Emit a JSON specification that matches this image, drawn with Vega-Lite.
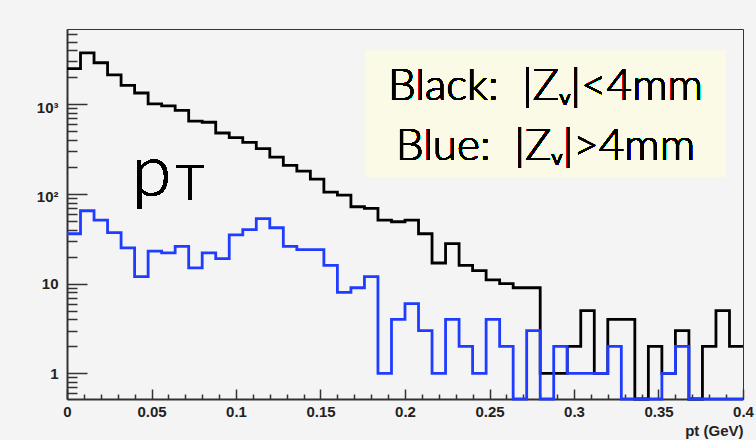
{
  "$schema": "https://vega.github.io/schema/vega-lite/v6.json",
  "autosize": {"type": "none"},
  "width": 676,
  "height": 370,
  "padding": {"left": 67, "top": 29, "right": 13, "bottom": 41},
  "background": "#f4f4f4",
  "config": {
    "view": {"stroke": "#333333", "strokeWidth": 1, "fill": "#f4f4f4"},
    "axis": {"grid": false, "tickColor": "#333333", "tickWidth": 1.5, "domainColor": "#333333", "domainWidth": 2, "labelFont": "Liberation Sans", "labelFontSize": 15, "labelFontWeight": "bold", "labelColor": "#222222", "labelOverlap": false, "labelFlush": false}
  },
  "data": {
    "values": [
      {"pt": 0, "black": 2500, "blue": 36},
      {"pt": 0.008, "black": 3730, "blue": 65},
      {"pt": 0.016, "black": 2900, "blue": 51},
      {"pt": 0.024, "black": 2130, "blue": 37},
      {"pt": 0.032, "black": 1620, "blue": 25},
      {"pt": 0.04, "black": 1335, "blue": 12},
      {"pt": 0.048, "black": 1010, "blue": 23},
      {"pt": 0.056, "black": 960, "blue": 22},
      {"pt": 0.064, "black": 855, "blue": 26},
      {"pt": 0.072, "black": 650, "blue": 15},
      {"pt": 0.08, "black": 630, "blue": 22},
      {"pt": 0.088, "black": 478, "blue": 19},
      {"pt": 0.096, "black": 425, "blue": 35},
      {"pt": 0.104, "black": 375, "blue": 40},
      {"pt": 0.112, "black": 320, "blue": 53},
      {"pt": 0.12, "black": 258, "blue": 42},
      {"pt": 0.128, "black": 208, "blue": 26},
      {"pt": 0.136, "black": 180, "blue": 24},
      {"pt": 0.144, "black": 146, "blue": 24},
      {"pt": 0.152, "black": 105, "blue": 16},
      {"pt": 0.16, "black": 97, "blue": 8},
      {"pt": 0.168, "black": 72, "blue": 9},
      {"pt": 0.176, "black": 69, "blue": 12},
      {"pt": 0.184, "black": 51, "blue": 1},
      {"pt": 0.192, "black": 49, "blue": 4},
      {"pt": 0.2, "black": 51, "blue": 6},
      {"pt": 0.208, "black": 36, "blue": 3},
      {"pt": 0.216, "black": 17, "blue": 1},
      {"pt": 0.224, "black": 28, "blue": 4},
      {"pt": 0.232, "black": 16, "blue": 2},
      {"pt": 0.24, "black": 14, "blue": 1},
      {"pt": 0.248, "black": 11, "blue": 4},
      {"pt": 0.256, "black": 10, "blue": 2},
      {"pt": 0.264, "black": 9, "blue": 0},
      {"pt": 0.272, "black": 9, "blue": 3},
      {"pt": 0.28, "black": 1, "blue": 0},
      {"pt": 0.288, "black": 1, "blue": 2},
      {"pt": 0.296, "black": 2, "blue": 1},
      {"pt": 0.304, "black": 5, "blue": 1},
      {"pt": 0.312, "black": 1, "blue": 1},
      {"pt": 0.32, "black": 4, "blue": 2},
      {"pt": 0.328, "black": 4, "blue": 0},
      {"pt": 0.336, "black": 0, "blue": 0},
      {"pt": 0.344, "black": 2, "blue": 0},
      {"pt": 0.352, "black": 1, "blue": 1},
      {"pt": 0.36, "black": 3, "blue": 2},
      {"pt": 0.368, "black": 0, "blue": 0},
      {"pt": 0.376, "black": 2, "blue": 0},
      {"pt": 0.384, "black": 5, "blue": 0},
      {"pt": 0.392, "black": 2, "blue": 0},
      {"pt": 0.4, "black": 2, "blue": 0}
    ]
  },
  "resolve": {"axis": {"x": "independent", "y": "independent"}},
  "layer": [
    {
      "mark": {"type": "rect", "color": "#fafae6"},
      "encoding": {
        "x": {"datum": 0.1763, "type": "quantitative", "axis": null},
        "x2": {"datum": 0.3899},
        "y": {"datum": 3958, "type": "quantitative", "axis": null},
        "y2": {"datum": 156}
      }
    },
    {
      "mark": {"type": "line", "interpolate": "step-after", "color": "#000000", "strokeWidth": 2.8, "invalid": "show"},
      "encoding": {
        "x": {
          "field": "pt", "type": "quantitative",
          "scale": {"domain": [0, 0.4], "nice": false, "zero": false},
          "axis": {
            "orient": "bottom",
            "values": [0, 0.05, 0.1, 0.15, 0.2, 0.25, 0.3, 0.35, 0.4],
            "format": "~g",
            "tickSize": -10,
            "labelPadding": 15,
            "title": "pt (GeV)",
            "titleFont": "Liberation Sans",
            "titleFontSize": 15,
            "titleFontWeight": "bold",
            "titleColor": "#222222",
            "titleX": 676,
            "titleY": 36,
            "titleAlign": "right",
            "titleBaseline": "alphabetic"
          }
        },
        "y": {
          "field": "black", "type": "quantitative",
          "scale": {"type": "log", "domain": [0.518, 6900], "nice": false, "clamp": true},
          "axis": {
            "orient": "left",
            "values": [1, 10, 100, 1000],
            "tickSize": -20,
            "labelPadding": 29,
            "labelOffset": {"condition": {"test": "datum.value >= 100", "value": 3}, "value": 0},
            "labelExpr": "datum.value == 1 ? '1' : datum.value == 10 ? '10' : datum.value == 100 ? '10²' : '10³'",
            "title": null
          }
        }
      }
    },
    {
      "mark": {"type": "line", "interpolate": "step-after", "color": "#1f3cff", "strokeWidth": 2.8, "invalid": "show"},
      "encoding": {
        "x": {
          "field": "pt", "type": "quantitative",
          "axis": {
            "orient": "bottom",
            "values": [0.01, 0.02, 0.03, 0.04, 0.06, 0.07, 0.08, 0.09, 0.11, 0.12, 0.13, 0.14, 0.16, 0.17, 0.18, 0.19, 0.21, 0.22, 0.23, 0.24, 0.26, 0.27, 0.28, 0.29, 0.31, 0.32, 0.33, 0.34, 0.36, 0.37, 0.38, 0.39],
            "tickSize": -5,
            "labels": false,
            "domain": false,
            "title": null
          }
        },
        "y": {
          "field": "blue", "type": "quantitative",
          "axis": {
            "orient": "left",
            "values": [0.6, 0.7, 0.8, 0.9, 2, 3, 4, 5, 6, 7, 8, 9, 20, 30, 40, 50, 60, 70, 80, 90, 200, 300, 400, 500, 600, 700, 800, 900, 2000, 3000, 4000, 5000, 6000],
            "tickSize": -10,
            "labels": false,
            "domain": false,
            "title": null
          }
        }
      }
    },
    {
      "mark": {"type": "text", "text": "p", "font": "Lato", "fontSize": 72, "fontWeight": 300, "align": "center", "baseline": "alphabetic", "color": "#000000"},
      "encoding": {
        "x": {"datum": 0.0501, "type": "quantitative", "axis": null},
        "y": {"datum": 93.8, "type": "quantitative", "axis": null}
      }
    },
    {
      "mark": {"type": "text", "text": "T", "font": "Lato", "fontSize": 49, "fontWeight": 300, "align": "center", "baseline": "alphabetic", "color": "#000000"},
      "encoding": {
        "x": {"datum": 0.0728, "type": "quantitative", "axis": null},
        "y": {"datum": 85.7, "type": "quantitative", "axis": null}
      }
    },
    {
      "mark": {"type": "text", "text": "Black:\u00a0 |Zᵥ|<4mm", "font": "Lato", "fontSize": 44, "fontWeight": 300, "align": "center", "baseline": "alphabetic", "color": "#000000"},
      "encoding": {
        "x": {"datum": 0.2831, "type": "quantitative", "axis": null},
        "y": {"datum": 1117, "type": "quantitative", "axis": null}
      }
    },
    {
      "mark": {"type": "text", "text": "Blue:\u00a0 |Zᵥ|>4mm", "font": "Lato", "fontSize": 44, "fontWeight": 300, "align": "center", "baseline": "alphabetic", "color": "#000000"},
      "encoding": {
        "x": {"datum": 0.2831, "type": "quantitative", "axis": null},
        "y": {"datum": 239, "type": "quantitative", "axis": null}
      }
    }
  ]
}
